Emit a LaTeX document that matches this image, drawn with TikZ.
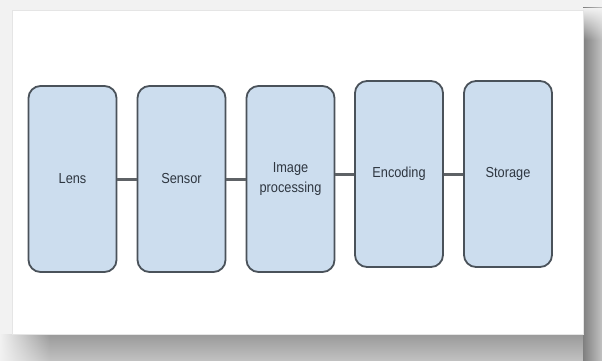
\documentclass[tikz,border=0pt]{standalone}
\usepackage{fontspec}
\setmainfont{Liberation Sans}
\newfontfamily\condfont[FakeStretch=0.88]{Liberation Sans}
\usetikzlibrary{fadings}
\definecolor{boxfill}{HTML}{CCDDEE}
\definecolor{boxline}{HTML}{4A525A}
\definecolor{txt}{HTML}{2E3640}
\definecolor{conn}{HTML}{5E6266}
\definecolor{bg}{HTML}{F2F2F2}
\tikzset{
  stage/.style={draw=boxline, line width=1.8pt, fill=boxfill, rounded corners=12pt,
    minimum width=88pt, minimum height=186pt, inner sep=0pt, align=center,
    text=txt, font=\condfont\fontsize{14.5}{20}\selectfont},
  link/.style={draw=conn, line width=3pt}
}
\begin{document}
\begin{tikzpicture}[x=1pt,y=-1pt]
\useasboundingbox (0,0) rectangle (602,361);
\fill[bg] (0,0) rectangle (602,361);
% shadow
\shade[top color=black!40, bottom color=black!24] (0,334) rectangle (602,361);
\shade[left color=black!50, right color=black!24] (583,8) rectangle (602,361);
\fill[bg, path fading=east] (0,334) rectangle (50,361);
\fill[bg, path fading=south] (583,8) rectangle (602,40);
% card
\fill[white] (12,10) rectangle (583,334);
\draw[black!10, line width=0.8pt] (12,10) rectangle (583,334);
% stages
\node[stage] (lens) at (72.5,179) {Lens};
\node[stage] (sensor) at (181.5,179) {Sensor};
\node[stage] (proc) at (290.5,179) {Image\\processing};
\node[stage] (enc) at (399,174) {Encoding};
\node[stage] (stor) at (508,174) {Storage};
% connectors
\draw[link] (lens.east) -- (sensor.west);
\draw[link] (sensor.east) -- (proc.west);
\draw[link] (proc.east |- 0,174) coordinate (pe) -- (enc.west);
\draw[link] (enc.east) -- (stor.west);
\end{tikzpicture}
\end{document}
